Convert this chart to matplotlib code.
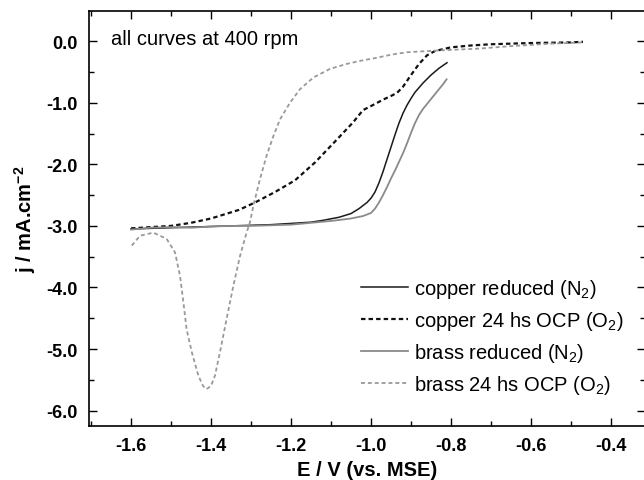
import matplotlib
matplotlib.use("Agg")
import matplotlib.pyplot as plt
from matplotlib.ticker import MultipleLocator, FormatStrFormatter

plt.rcParams['font.family'] = ['Liberation Sans', 'DejaVu Sans']
plt.rcParams['mathtext.fontset'] = 'custom'
plt.rcParams['mathtext.rm'] = 'Liberation Sans'
plt.rcParams['mathtext.it'] = 'Liberation Sans'
plt.rcParams['mathtext.bf'] = 'Liberation Sans:bold'

# copper reduced (N2)
cu_red_E = [-1.60, -1.55, -1.50, -1.45, -1.40, -1.35, -1.30, -1.25, -1.20, -1.15,
            -1.12, -1.08, -1.05, -1.03, -1.01, -1.00, -0.99, -0.98, -0.97, -0.96,
            -0.95, -0.94, -0.93, -0.92, -0.91, -0.90, -0.89, -0.87, -0.85, -0.83,
            -0.81]
cu_red_j = [-3.05, -3.04, -3.03, -3.02, -3.01, -3.00, -2.99, -2.98, -2.96, -2.94,
            -2.91, -2.86, -2.80, -2.72, -2.62, -2.55, -2.45, -2.30, -2.12, -1.92,
            -1.72, -1.52, -1.33, -1.17, -1.04, -0.93, -0.83, -0.68, -0.55, -0.44,
            -0.35]

# copper 24 hs OCP (O2)
cu_ocp_E = [-1.60, -1.55, -1.50, -1.45, -1.40, -1.36, -1.33, -1.29, -1.24, -1.19,
            -1.14, -1.09, -1.045, -1.02, -0.99, -0.97, -0.95, -0.935, -0.92,
            -0.90, -0.88, -0.86, -0.84, -0.80, -0.75, -0.70, -0.60, -0.50, -0.47]
cu_ocp_j = [-3.04, -3.02, -3.00, -2.95, -2.88, -2.80, -2.74, -2.62, -2.45, -2.26,
            -1.97, -1.63, -1.32, -1.12, -1.02, -0.95, -0.89, -0.84, -0.74,
            -0.55, -0.37, -0.23, -0.16, -0.10, -0.07, -0.05, -0.03, -0.02, -0.01]

# brass reduced (N2)
br_red_E = [-1.60, -1.55, -1.50, -1.45, -1.40, -1.35, -1.30, -1.25, -1.20, -1.15,
            -1.10, -1.05, -1.02, -1.00, -0.99, -0.98, -0.97, -0.96, -0.95, -0.94,
            -0.93, -0.92, -0.91, -0.90, -0.89, -0.88, -0.87, -0.86, -0.85, -0.84,
            -0.83, -0.82, -0.811]
br_red_j = [-3.06, -3.03, -3.02, -3.03, -3.01, -3.00, -3.00, -2.99, -2.98, -2.95,
            -2.92, -2.88, -2.84, -2.79, -2.72, -2.62, -2.50, -2.37, -2.23, -2.10,
            -1.96, -1.82, -1.66, -1.49, -1.33, -1.20, -1.10, -1.02, -0.94, -0.86,
            -0.78, -0.70, -0.62]

# brass 24 hs OCP (O2)
br_ocp_E = [-1.598, -1.5775, -1.544, -1.511, -1.49, -1.4775, -1.469, -1.461,
            -1.448, -1.4317, -1.42, -1.411, -1.40, -1.39, -1.3775, -1.361, -1.344,
            -1.3275, -1.311, -1.3025, -1.294, -1.2775, -1.261, -1.244, -1.2275,
            -1.2025, -1.1775, -1.144, -1.1025, -1.061, -1.0275, -0.994, -0.95,
            -0.911, -0.87, -0.8275, -0.7275, -0.65, -0.55, -0.47]
br_ocp_j = [-3.32, -3.16, -3.11, -3.21, -3.43, -3.81, -4.24, -4.68,
            -5.05, -5.43, -5.60, -5.65, -5.60, -5.43, -5.05, -4.51, -3.97,
            -3.49, -3.11, -2.94, -2.67, -2.24, -1.86, -1.54, -1.27,
            -1.00, -0.78, -0.59, -0.45, -0.37, -0.32, -0.28, -0.22,
            -0.18, -0.165, -0.15, -0.12, -0.08, -0.04, -0.02]

fig = plt.figure(figsize=(6.44, 4.81), dpi=100)
ax = fig.add_axes([89 / 644, 1 - 427 / 481, 556 / 644, 415 / 481])

ax.plot(cu_red_E, cu_red_j, color='#1a1a1a', lw=1.1, label='copper reduced (N$_2$)')
ax.plot(cu_ocp_E, cu_ocp_j, color='#111111', lw=1.6, ls=(0, (2.0, 1.4)),
        label='copper 24 hs OCP (O$_2$)')
ax.plot(br_red_E, br_red_j, color='#8a8a8a', lw=1.3, label='brass reduced (N$_2$)')
ax.plot(br_ocp_E, br_ocp_j, color='#999999', lw=1.3, ls=(0, (2.2, 1.6)),
        label='brass 24 hs OCP (O$_2$)')

ax.set_xlim(-1.705, -0.315)
ax.set_ylim(-6.25, 0.49)

ax.xaxis.set_major_locator(MultipleLocator(0.2))
ax.xaxis.set_minor_locator(MultipleLocator(0.1))
ax.yaxis.set_major_locator(MultipleLocator(1.0))
ax.yaxis.set_minor_locator(MultipleLocator(0.5))
ax.xaxis.set_major_formatter(FormatStrFormatter('%.1f'))
ax.yaxis.set_major_formatter(FormatStrFormatter('%.1f'))

ax.tick_params(which='both', direction='in', top=True, right=True, width=1.0)
ax.tick_params(which='major', length=6, labelsize=13, pad=8)
ax.tick_params(which='minor', length=3.5)
for lab in ax.get_xticklabels() + ax.get_yticklabels():
    lab.set_fontweight('bold')
for s in ax.spines.values():
    s.set_linewidth(1.2)

ax.set_xlabel('E / V (vs. MSE)', fontsize=14.5, fontweight='bold', labelpad=4)
ax.set_ylabel('j / mA.cm$^{\\mathbf{-2}}$', fontsize=14.5, fontweight='bold', labelpad=6)

ax.text(-1.65, 0.05, 'all curves at 400 rpm', fontsize=14.5, va='center', ha='left')

ax.legend(loc='lower right', bbox_to_anchor=(0.975, 0.052), frameon=False,
          fontsize=14.5, handlelength=2.3, handletextpad=0.3, labelspacing=0.45,
          borderaxespad=0)

fig.savefig('out.png', dpi=100)
